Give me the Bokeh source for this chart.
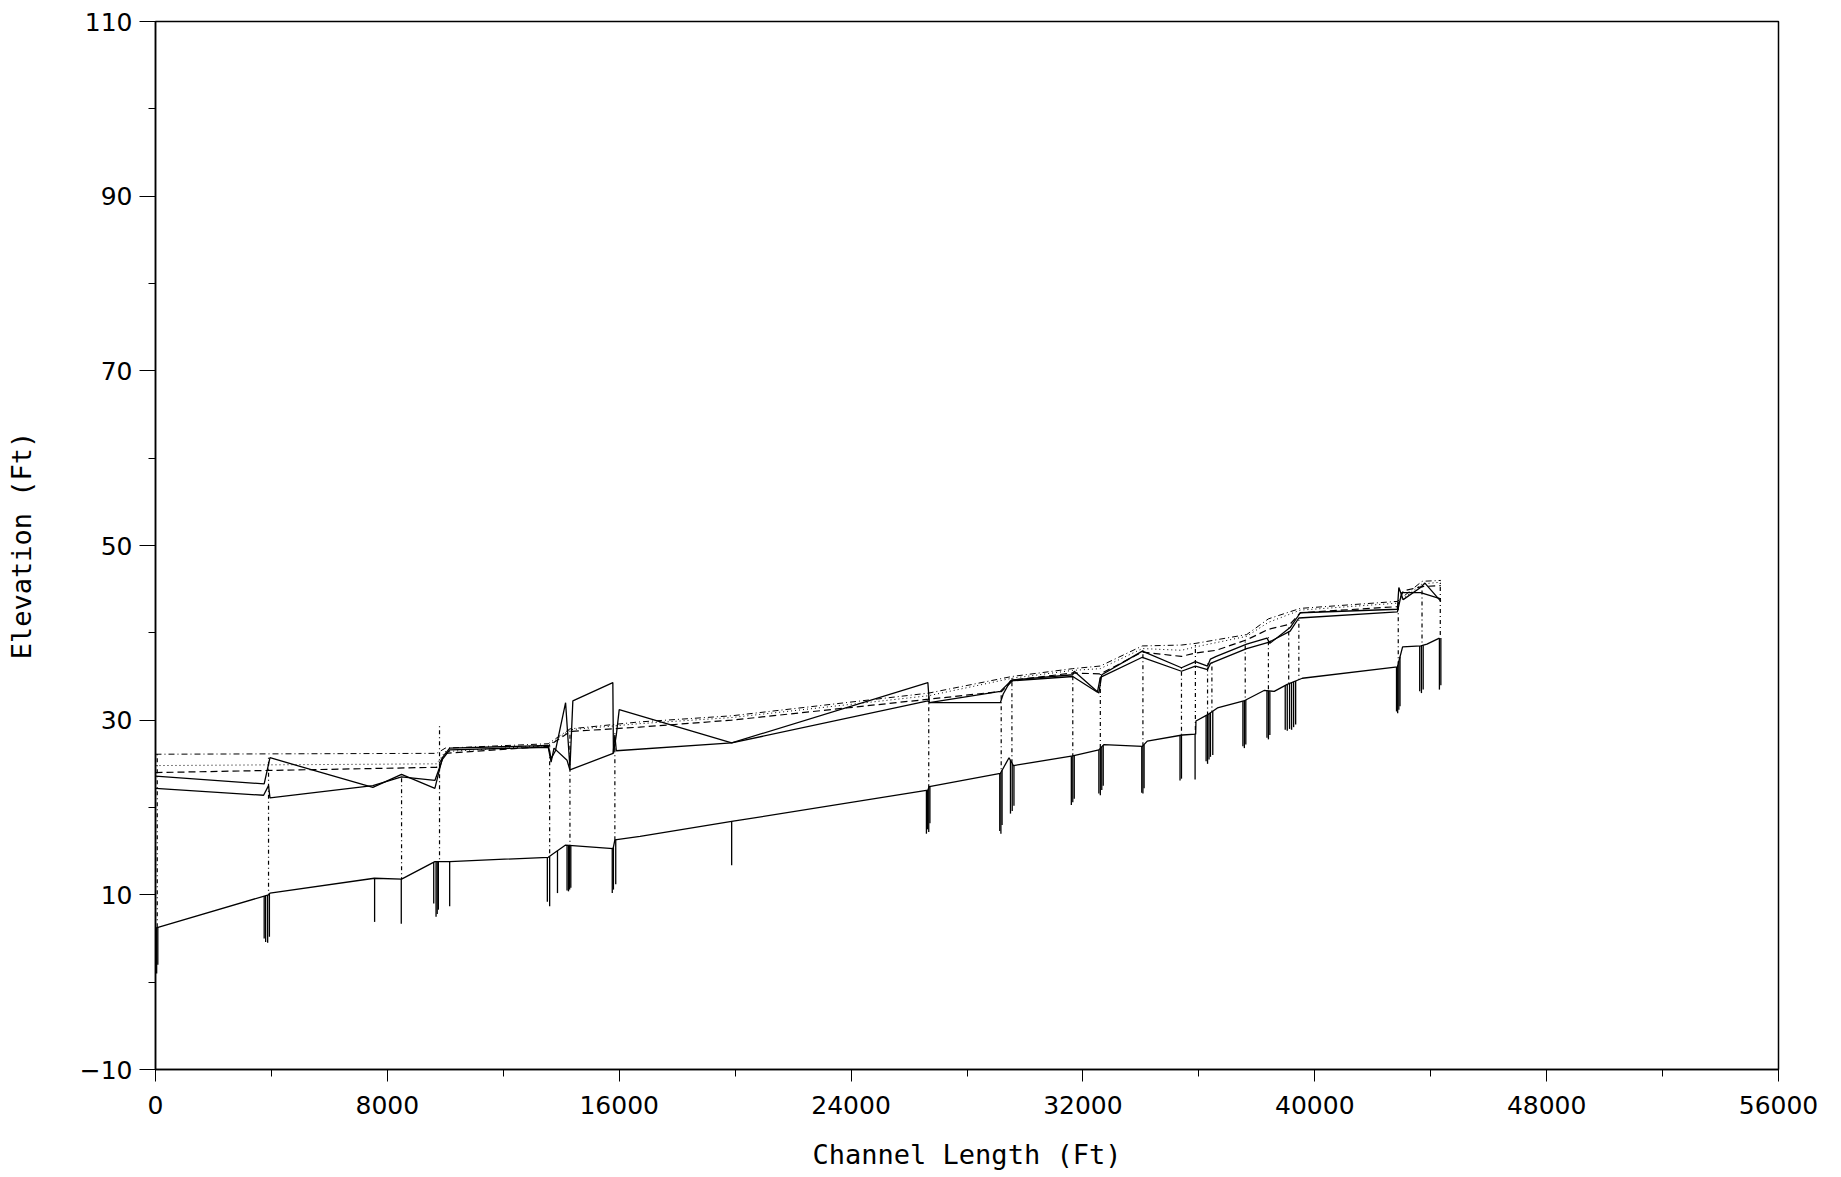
import numpy as np
from bokeh.plotting import figure
from bokeh.models import Range1d, FixedTicker
from bokeh.embed import file_html
from bokeh.resources import INLINE

# ---------------- data ----------------
x_major = [0, 8000, 16000, 24000, 32000, 40000, 48000, 56000]
x_minor = [4000, 12000, 20000, 28000, 36000, 44000, 52000]
y_major = [-10, 10, 30, 50, 70, 90, 110]
y_minor = [0, 20, 40, 60, 80, 100]

# channel invert
bed_sta = [0, 3900, 3950, 7550, 8490, 9640, 10150, 13550, 14150, 15790, 15850, 16720,
           19880, 26650, 26700, 29150, 29450, 29600, 31650, 32550, 32720, 34050, 34220,
           35430, 35890, 35900, 36290, 36640, 37550, 38250, 38600, 39050, 39570, 42850,
           43030, 43660, 43870, 44300]
bed_el = [6.2, 10.0, 10.2, 11.9, 11.8, 13.8, 13.8, 14.3, 15.7, 15.3, 16.3, 16.7,
          18.4, 22.0, 22.4, 23.9, 25.7, 24.8, 25.9, 26.6, 27.2, 27.0, 27.6,
          28.3, 28.4, 29.9, 30.6, 31.4, 32.2, 33.4, 33.3, 34.1, 34.8, 36.1,
          38.4, 38.5, 38.7, 39.4]

# water surface profile 1 (solid, upper)
ws1_sta = [0, 3750, 3950, 7500, 8490, 9640, 9900, 10150, 13550, 13650, 13800, 14150,
           14300, 14400, 15780, 15800, 15900, 16000, 19880, 26650, 26700, 29150, 29550,
           31650, 31700, 32550, 32650, 34050, 35400, 35880, 36300, 36400, 36600, 37650,
           38350, 38450, 39150, 39500, 42850, 42900, 43050, 43650, 43800, 44350]
ws1_el = [23.6, 22.7, 25.7, 22.3, 23.8, 22.2, 25.7, 26.8, 27.1, 25.6, 26.5, 32.0,
          24.5, 32.2, 34.3, 26.2, 28.3, 31.2, 27.4, 34.3, 32.0, 33.3, 34.6,
          35.2, 35.6, 33.1, 35.2, 37.9, 36.0, 36.7, 36.2, 37.0, 37.3, 38.7,
          39.4, 38.8, 40.6, 42.3, 42.7, 45.2, 43.8, 45.2, 45.7, 43.6]

# water surface profile 2 (solid, lower)
ws2_sta = [0, 3730, 3900, 3950, 7500, 8490, 9640, 9900, 10150, 13550, 13650, 13750,
           14200, 14300, 15790, 15850, 15900, 19880, 26650, 26700, 29150, 29250, 29500,
           31650, 32500, 32600, 34050, 35400, 35880, 36300, 36400, 37650, 38400, 39150,
           39450, 42850, 43000, 43650, 44350]
ws2_el = [22.2, 21.4, 22.5, 21.1, 22.5, 23.5, 23.1, 25.5, 26.6, 26.9, 25.2, 26.8,
          25.4, 24.3, 26.2, 28.3, 26.5, 27.4, 32.2, 32.0, 32.0, 33.0, 34.5,
          35.0, 33.2, 34.9, 37.2, 35.6, 36.2, 35.8, 36.5, 38.2, 38.9, 40.2,
          41.7, 42.4, 44.6, 44.6, 43.9]

# water surface profile 3 (dashed)
ws3_sta = [0, 9700, 10000, 13550, 14300, 16700, 19880, 26680, 29200, 29600, 31650,
           32600, 34050, 35400, 35900, 36600, 37650, 38400, 39150, 39500, 42850, 43050,
           43700, 44350]
ws3_el = [24.0, 24.6, 26.2, 27.0, 28.7, 29.2, 30.0, 32.4, 33.3, 34.6, 35.4,
          35.3, 37.8, 37.3, 37.7, 38.0, 39.2, 40.4, 41.0, 42.3, 43.0, 44.8,
          45.3, 45.4]

# water surface profile 4 (dotted)
ws4_sta = [0, 9700, 10000, 13550, 14300, 16700, 19880, 26680, 29550, 31650, 32600,
           34050, 35400, 35900, 37650, 38400, 39500, 42850, 43700, 44350]
ws4_el = [24.8, 25.0, 26.4, 27.1, 28.9, 29.6, 30.3, 32.8, 34.8, 35.7, 35.9,
          38.2, 38.0, 38.4, 39.6, 41.2, 42.6, 43.4, 45.6, 45.8]

# water surface profile 5 (dash-dot, top)
ws5_sta = [0, 9700, 10000, 13550, 14300, 16700, 19880, 26680, 29550, 31650, 32600,
           34050, 35400, 35900, 37650, 38400, 39500, 42850, 43700, 44350]
ws5_el = [26.1, 26.2, 26.8, 27.3, 29.0, 29.8, 30.5, 33.1, 35.0, 35.9, 36.2,
          38.5, 38.6, 38.8, 39.8, 41.6, 42.8, 43.6, 45.9, 46.0]

# solid verticals below the invert (station, bottom elevation)
pile_sta = [40, 80, 3750, 3800, 3870, 3930, 7560, 8480, 9600, 9680, 9720, 9760, 10150,
            13520, 13600, 13870, 14200, 14250, 14290, 14330, 15760, 15800, 15880, 19880,
            26600, 26640, 26680, 26720, 29130, 29170, 29210, 29500, 29560, 29620,
            31600, 31650, 31700, 32550, 32600, 32650, 32700, 34030, 34070, 34110,
            35350, 35400, 35870, 36250, 36300, 36350, 36400, 36480, 37520, 37570, 37620,
            38350, 38400, 38450, 38980, 39050, 39130, 39200, 39270, 39340,
            42820, 42860, 42900, 42940, 43620, 43680, 43740, 44300, 44350]
pile_bot = [1.0, 2.0, 5.0, 4.6, 4.5, 5.2, 6.9, 6.7, 9.0, 7.5, 7.8, 8.3, 8.7,
            9.2, 8.7, 10.2, 10.5, 10.4, 10.6, 10.8, 10.2, 10.6, 11.2, 13.4,
            17.0, 17.5, 17.2, 18.2, 17.3, 17.0, 18.0, 19.3, 19.6, 20.2,
            20.3, 20.6, 21.0, 21.6, 21.4, 22.0, 22.5, 21.7, 21.6, 22.2,
            23.1, 23.3, 23.2, 25.3, 25.0, 25.5, 25.8, 26.0, 27.0, 26.8, 27.2,
            28.0, 27.8, 28.3, 28.9, 28.8, 29.0, 28.9, 29.2, 29.5,
            31.0, 30.8, 31.2, 31.6, 33.3, 33.1, 33.5, 33.5, 34.0]

# dotted cross-section verticals (station, top elevation)
xs_sta = [60, 3900, 8490, 9800, 13600, 14300, 15850, 26680, 29180, 29550, 31650, 32600,
          34070, 35400, 35880, 36300, 36450, 37600, 38400, 39100, 39450, 42880, 43700, 44330]
xs_top = [26.1, 25.7, 23.8, 29.3, 27.0, 28.8, 28.5, 33.2, 33.3, 34.8, 35.5, 35.3,
          38.0, 36.0, 38.6, 36.5, 36.6, 39.0, 39.5, 40.6, 41.5, 43.5, 45.3, 45.7]

# ---------------- figure ----------------
INK = "#000000"
p = figure(width=1830, height=1172, output_backend="svg", toolbar_location=None,
           x_range=Range1d(0, 56000), y_range=Range1d(-10, 110),
           min_border_left=155, min_border_right=52, min_border_top=21,
           min_border_bottom=100)
p.background_fill_color = "white"
p.border_fill_color = "white"
p.outline_line_color = INK
p.outline_line_width = 1.5
p.grid.visible = False

p.xaxis.ticker = FixedTicker(ticks=x_major, minor_ticks=x_minor)
p.yaxis.ticker = FixedTicker(ticks=y_major, minor_ticks=y_minor)
p.xaxis.axis_label = "Channel Length (Ft)"
p.yaxis.axis_label = "Elevation (Ft)"
for ax in (p.xaxis, p.yaxis):
    ax.axis_line_color = INK
    ax.axis_line_width = 1.5
    ax.major_tick_line_color = INK
    ax.minor_tick_line_color = INK
    ax.major_tick_in = 0
    ax.minor_tick_in = 0
    ax.minor_tick_out = 7
    ax.major_label_text_font = "DejaVu Sans"
    ax.major_label_text_font_size = "25px"
    ax.major_label_text_color = INK
    ax.axis_label_text_font = "DejaVu Sans Mono"
    ax.axis_label_text_font_size = "27px"
    ax.axis_label_text_font_style = "normal"
    ax.axis_label_text_color = INK
p.xaxis.major_tick_out = 12
p.xaxis.major_label_standoff = 14
p.xaxis.axis_label_standoff = 22
p.yaxis.major_tick_out = 16
p.yaxis.major_label_standoff = 7
p.yaxis.axis_label_standoff = 40
p.yaxis.major_label_orientation = "horizontal"

# channel invert
p.line(bed_sta, bed_el, line_color=INK, line_width=1.3)

# solid verticals below the invert
pile_top = np.interp(pile_sta, bed_sta, bed_el)
p.segment(x0=pile_sta, y0=pile_top, x1=pile_sta, y1=pile_bot,
          line_color=INK, line_width=1.3)

# dotted cross-section verticals
xs_bot = np.interp(xs_sta, bed_sta, bed_el)
p.segment(x0=xs_sta, y0=xs_top, x1=xs_sta, y1=xs_bot,
          line_color=INK, line_width=1.2, line_dash="1 3 4 3")

# water surface profiles
p.line(ws5_sta, ws5_el, line_color=INK, line_width=1.0, line_dash="6 3 1 3")
p.line(ws4_sta, ws4_el, line_color=INK, line_width=1.0, line_dash="1 3")
p.line(ws3_sta, ws3_el, line_color=INK, line_width=1.2, line_dash="7 4")
p.line(ws2_sta, ws2_el, line_color=INK, line_width=1.3)
p.line(ws1_sta, ws1_el, line_color=INK, line_width=1.3)

open("out.html", "w").write(file_html(p, INLINE))
